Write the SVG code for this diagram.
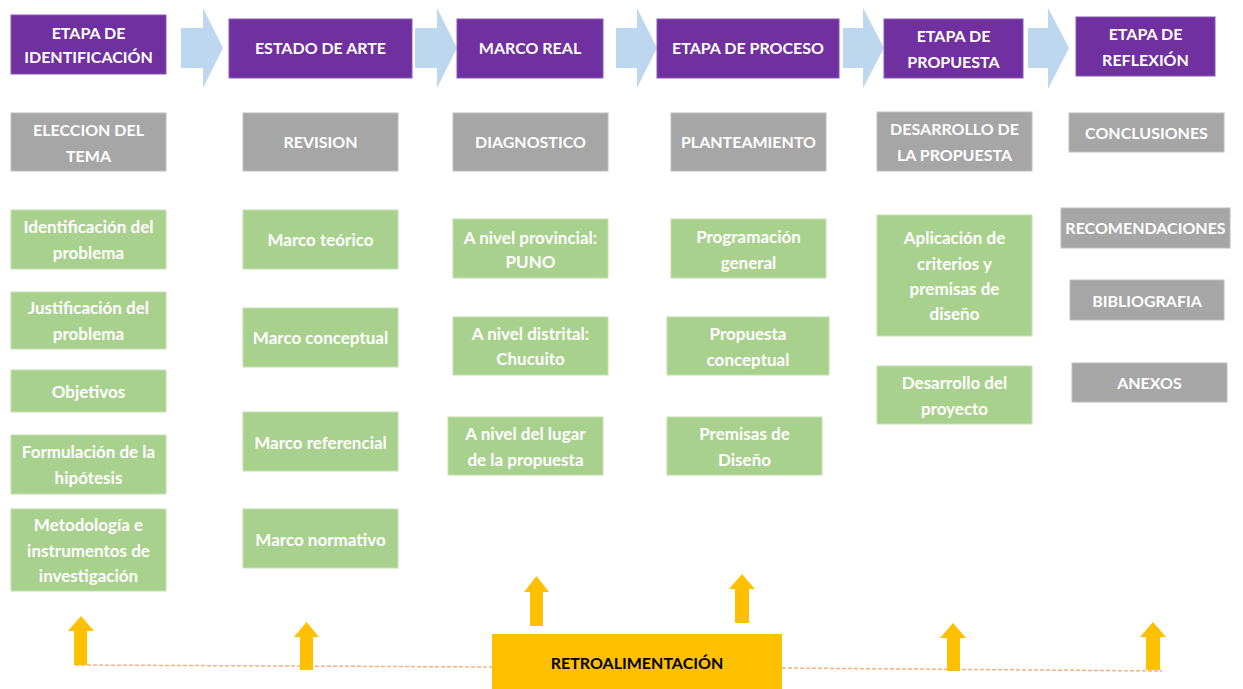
<svg xmlns="http://www.w3.org/2000/svg" width="1243" height="689" viewBox="0 0 1243 689">
<style>
.bg{fill:#ffffff}
.pur{fill:#7030A0;stroke:#8a5bb3;stroke-width:1}
.gry{fill:#A6A6A6;stroke:#bdbdbd;stroke-width:1}
.grn{fill:#A9D18E;stroke:#c3e0b0;stroke-width:1}
.ret{fill:#FFC000}
.t{font-family:Lato,"Liberation Sans",sans-serif;font-weight:bold;font-size:16px;fill:#ffffff;text-anchor:middle}
.m{font-size:17px}
.tk{font-family:Lato,"Liberation Sans",sans-serif;font-weight:bold;font-size:16px;fill:#000000;text-anchor:middle}
.flow{fill:#BDD7EE}
.up{fill:#FFC000}
.dash{stroke:#F4B183;stroke-width:1.5;stroke-dasharray:4 2;fill:none}
</style>
<rect class="bg" x="0" y="0" width="1243" height="689"/>
<g id="connectors">
  <path class="flow" d="M181,28 H203 V8 L223,48 L203,88 V68 H181 Z"/>
  <path class="flow" d="M415,28 H437 V8 L457,48 L437,88 V68 H415 Z"/>
  <path class="flow" d="M616,28 H637 V8 L657,48 L637,88 V68 H616 Z"/>
  <path class="flow" d="M843,28 H863 V8 L884,48 L863,88 V68 H843 Z"/>
  <path class="flow" d="M1028,28 H1048 V8 L1069,48 L1048,89 V68 H1028 Z"/>
  <path class="dash" d="M75,665 L492,667"/>
  <path class="dash" d="M782,668 L1162,671"/>
  <path class="up" d="M74,665 V631 H68 L81,616 L94,631 H87 V665 Z"/>
  <path class="up" d="M300,670 V637 H294 L306.5,622 L319,637 H313 V670 Z"/>
  <path class="up" d="M530,626 V592 H524 L536.5,576 L549,592 H543 V626 Z"/>
  <path class="up" d="M735,623 V589 H729 L742,574 L755,589 H749 V623 Z"/>
  <path class="up" d="M947,671 V638 H940 L953,623 L966,638 H960 V671 Z"/>
  <path class="up" d="M1146,670 V637 H1140 L1153,622 L1166,637 H1160 V670 Z"/>
</g>
<g id="h1"><rect class="pur" x="11" y="15" width="155" height="59"/><text class="t" x="88.5" y="39">ETAPA DE</text><text class="t" x="88.5" y="63">IDENTIFICACIÓN</text></g>
<g id="h2"><rect class="pur" x="229" y="19" width="183" height="59"/><text class="t" x="320.5" y="54">ESTADO DE ARTE</text></g>
<g id="h3"><rect class="pur" x="457" y="19" width="146" height="59"/><text class="t" x="530" y="54">MARCO REAL</text></g>
<g id="h4"><rect class="pur" x="657" y="19" width="182" height="59"/><text class="t" x="748" y="54">ETAPA DE PROCESO</text></g>
<g id="h5"><rect class="pur" x="884" y="19" width="139" height="59"/><text class="t" x="953.5" y="42">ETAPA DE</text><text class="t" x="953.5" y="68">PROPUESTA</text></g>
<g id="h6"><rect class="pur" x="1076" y="17" width="139" height="59"/><text class="t" x="1145.5" y="40">ETAPA DE</text><text class="t" x="1145.5" y="66">REFLEXIÓN</text></g>

<g id="g1"><rect class="gry" x="11" y="113" width="155" height="58"/><text class="t" x="88.5" y="136">ELECCION DEL</text><text class="t" x="88.5" y="162">TEMA</text></g>
<g id="g2"><rect class="gry" x="243" y="113" width="155" height="58"/><text class="t" x="320.5" y="148">REVISION</text></g>
<g id="g3"><rect class="gry" x="453" y="113" width="155" height="58"/><text class="t" x="530.5" y="148">DIAGNOSTICO</text></g>
<g id="g4"><rect class="gry" x="671" y="113" width="155" height="58"/><text class="t" x="748.5" y="148">PLANTEAMIENTO</text></g>
<g id="g5"><rect class="gry" x="877" y="112" width="155" height="59"/><text class="t" x="954.5" y="135">DESARROLLO DE</text><text class="t" x="954.5" y="161">LA PROPUESTA</text></g>
<g id="g6"><rect class="gry" x="1069" y="113" width="155" height="39"/><text class="t" x="1146.5" y="139">CONCLUSIONES</text></g>
<g id="g7"><rect class="gry" x="1061" y="208" width="169" height="40"/><text class="t" x="1145.5" y="234">RECOMENDACIONES</text></g>
<g id="g8"><rect class="gry" x="1070" y="280" width="154" height="40"/><text class="t" x="1147" y="307">BIBLIOGRAFIA</text></g>
<g id="g9"><rect class="gry" x="1072" y="363" width="155" height="39"/><text class="t" x="1149.5" y="389">ANEXOS</text></g>

<g id="c1a"><rect class="grn" x="11" y="210" width="155" height="59"/><text class="t m" x="88.5" y="233">Identificación del</text><text class="t m" x="88.5" y="259">problema</text></g>
<g id="c1b"><rect class="grn" x="11" y="292" width="155" height="57"/><text class="t m" x="88.5" y="314">Justificación del</text><text class="t m" x="88.5" y="340">problema</text></g>
<g id="c1c"><rect class="grn" x="11" y="370" width="155" height="42"/><text class="t m" x="88.5" y="398">Objetivos</text></g>
<g id="c1d"><rect class="grn" x="11" y="435" width="155" height="59"/><text class="t m" x="88.5" y="458">Formulación de la</text><text class="t m" x="88.5" y="484">hipótesis</text></g>
<g id="c1e"><rect class="grn" x="11" y="509" width="155" height="82"/><text class="t m" x="88.5" y="531">Metodología e</text><text class="t m" x="88.5" y="557">instrumentos de</text><text class="t m" x="88.5" y="582">investigación</text></g>

<g id="c2a"><rect class="grn" x="243" y="210" width="155" height="59"/><text class="t m" x="320.5" y="246">Marco teórico</text></g>
<g id="c2b"><rect class="grn" x="243" y="308" width="155" height="59"/><text class="t m" x="320.5" y="344">Marco conceptual</text></g>
<g id="c2c"><rect class="grn" x="243" y="412" width="155" height="59"/><text class="t m" x="320.5" y="449">Marco referencial</text></g>
<g id="c2d"><rect class="grn" x="243" y="509" width="155" height="59"/><text class="t m" x="320.5" y="546">Marco normativo</text></g>

<g id="c3a"><rect class="grn" x="453" y="219" width="155" height="59"/><text class="t m" x="530.5" y="244">A nivel provincial:</text><text class="t m" x="530.5" y="268">PUNO</text></g>
<g id="c3b"><rect class="grn" x="453" y="317" width="155" height="58"/><text class="t m" x="530.5" y="340">A nivel distrital:</text><text class="t m" x="530.5" y="365">Chucuito</text></g>
<g id="c3c"><rect class="grn" x="448" y="417" width="155" height="58"/><text class="t m" x="525.5" y="440">A nivel del lugar</text><text class="t m" x="525.5" y="466">de la propuesta</text></g>

<g id="c4a"><rect class="grn" x="671" y="219" width="155" height="59"/><text class="t m" x="748.5" y="243">Programación</text><text class="t m" x="748.5" y="269">general</text></g>
<g id="c4b"><rect class="grn" x="667" y="317" width="162" height="58"/><text class="t m" x="748" y="340">Propuesta</text><text class="t m" x="748" y="366">conceptual</text></g>
<g id="c4c"><rect class="grn" x="667" y="417" width="155" height="58"/><text class="t m" x="744.5" y="440">Premisas de</text><text class="t m" x="744.5" y="466">Diseño</text></g>

<g id="c5a"><rect class="grn" x="877" y="215" width="155" height="121"/><text class="t m" x="954.5" y="244">Aplicación de</text><text class="t m" x="954.5" y="270">criterios y</text><text class="t m" x="954.5" y="295">premisas de</text><text class="t m" x="954.5" y="320">diseño</text></g>
<g id="c5b"><rect class="grn" x="877" y="366" width="155" height="58"/><text class="t m" x="954.5" y="389">Desarrollo del</text><text class="t m" x="954.5" y="415">proyecto</text></g>

<g id="retro"><rect class="ret" x="492" y="634" width="290" height="55"/><text class="tk" x="637" y="669">RETROALIMENTACIÓN</text></g>
</svg>
